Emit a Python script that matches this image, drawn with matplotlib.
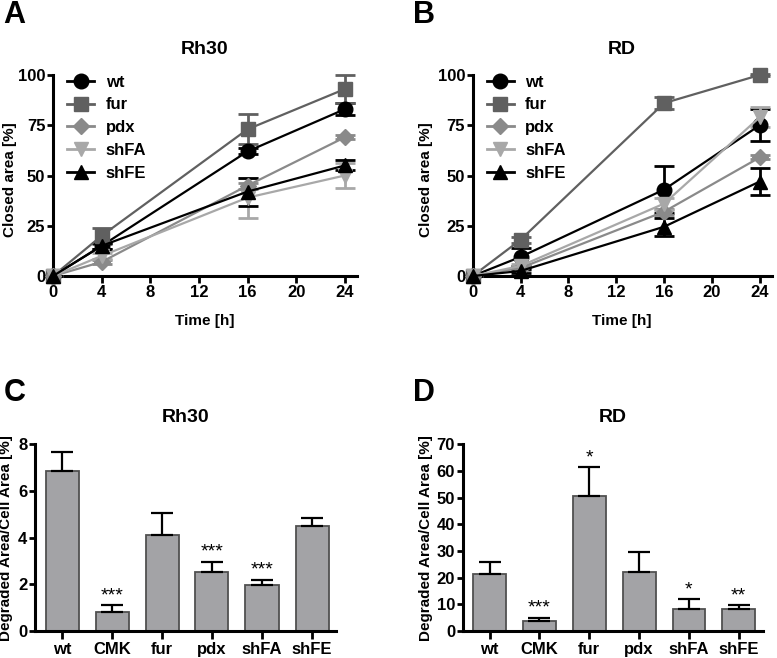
import matplotlib
matplotlib.use("Agg")
import matplotlib.pyplot as plt
from matplotlib.lines import Line2D
import numpy as np

plt.rcParams['font.family'] = ['Liberation Sans', 'DejaVu Sans']
plt.rcParams['font.weight'] = 'bold'

time_h = [0, 4, 16, 24]
series = ["wt", "fur", "pdx", "shFA", "shFE"]
markers = ["o", "s", "D", "v", "^"]
msizes = [10.5, 9.5, 8, 10, 10]
colors = ["#000000", "#606060", "#8a8a8a", "#a8a8a8", "#000000"]

# Panel A (Rh30) closed area [%]
rh30_wt = [0, 15, 62, 83]
rh30_wt_err = [0, 1.5, 1.5, 3]
rh30_fur = [0, 20, 73, 93]
rh30_fur_err = [0, 4, 7.5, 7]
rh30_pdx = [0, 7, 45, 69]
rh30_pdx_err = [0, 1, 1.5, 1]
rh30_shFA = [0, 10, 39, 50]
rh30_shFA_err = [0, 1.5, 10, 6]
rh30_shFE = [0, 15, 42, 55]
rh30_shFE_err = [0, 1.5, 7, 2.5]

# Panel B (RD) closed area [%]
rd_wt = [0, 9.5, 43, 75]
rd_wt_err = [0, 4.5, 11.5, 8]
rd_fur = [0, 18, 86, 100]
rd_fur_err = [0, 1.5, 3, 0.5]
rd_pdx = [0, 4, 32, 59]
rd_pdx_err = [0, 1, 1.5, 1]
rd_shFA = [0, 5, 36, 79]
rd_shFA_err = [0, 1, 3, 5]
rd_shFE = [0, 2.5, 24.5, 47]
rd_shFE_err = [0, 1, 4.5, 6.5]

# Panels C, D
bar_cats = ["wt", "CMK", "fur", "pdx", "shFA", "shFE"]
rh30_deg = [6.87, 0.83, 4.13, 2.54, 1.97, 4.51]
rh30_deg_err = [0.8, 0.28, 0.91, 0.43, 0.22, 0.33]
rh30_sig = ["", "***", "", "***", "***", ""]
rd_deg = [21.3, 3.8, 50.6, 22.0, 8.3, 8.1]
rd_deg_err = [4.5, 1.2, 10.9, 7.5, 3.6, 1.5]
rd_sig = ["", "***", "*", "", "*", "**"]

W, H = 777, 658
fig = plt.figure(figsize=(W / 100, H / 100), dpi=100)

def rect(l, r, t, b):
    return [l / W, 1 - b / H, (r - l) / W, (b - t) / H]

def style_axes(ax):
    for s in ["top", "right"]:
        ax.spines[s].set_visible(False)
    for s in ["left", "bottom"]:
        ax.spines[s].set_linewidth(2.2)
    ax.tick_params(width=2.0, labelsize=12, pad=1.5)
    ax.tick_params(axis='y', length=4)
    ax.tick_params(axis='x', length=5)
    for lab in ax.get_xticklabels() + ax.get_yticklabels():
        lab.set_fontweight('bold')

def line_panel(ax, data, title, ylab_x):
    handles = []
    for (vals, errs), name, m, ms, c in zip(data, series, markers, msizes, colors):
        ax.errorbar(time_h, vals, yerr=errs, color=c, marker=m, ms=ms, lw=1.6,
                    elinewidth=2.0, capsize=7, capthick=2.0,
                    clip_on=False, zorder=3)
        handles.append(Line2D([], [], color=c, marker=m, ms=ms, lw=2.0, label=name))
    ax.set_xlim(0, 25)
    ax.set_ylim(0, 100)
    ax.set_xticks([0, 4, 8, 12, 16, 20, 24])
    ax.set_yticks([0, 25, 50, 75, 100])
    ax.set_xlabel("Time [h]", fontsize=11, fontweight='bold', labelpad=10)
    ax.set_ylabel("Closed area [%]", fontsize=11, fontweight='bold')
    ax.yaxis.set_label_coords(ylab_x, 0.48)
    ax.set_title(title, fontsize=14, fontweight='bold', pad=15)
    style_axes(ax)
    ax.legend(handles=handles, loc="upper left", bbox_to_anchor=(0.025, 1.035), frameon=False,
              prop={'weight': 'bold', 'size': 12}, handlelength=1.6,
              labelspacing=0.47, handletextpad=0.7, borderaxespad=0)

def bar_panel(ax, vals, errs, sig, title, ylim, yticks, ylab_x):
    x = np.arange(len(bar_cats))
    ax.bar(x, vals, width=0.66, color="#a3a3a6", edgecolor="#505050", linewidth=1.3, zorder=2)
    ax.errorbar(x, vals, yerr=[np.zeros(len(vals)), errs], fmt="none", ecolor="black",
                elinewidth=1.6, capsize=8, capthick=1.6, zorder=3)
    for xi, v, e, s in zip(x, vals, errs, sig):
        if s:
            ax.text(xi, v + e + ylim[1] * 0.005, s, ha="center", va="bottom", fontsize=14,
                    fontweight='normal')
    ax.set_xlim(-0.54, 5.48)
    ax.set_ylim(*ylim)
    ax.set_yticks(yticks)
    ax.set_xticks(x)
    ax.set_xticklabels(bar_cats)
    ax.set_ylabel("Degraded Area/Cell Area [%]", fontsize=11, fontweight='bold')
    ax.yaxis.set_label_coords(ylab_x, 0.5)
    ax.set_title(title, fontsize=14, fontweight='bold', pad=16)
    style_axes(ax)
    ax.tick_params(axis='x', length=6, pad=2)

axA = fig.add_axes(rect(53, 357, 75, 276))
line_panel(axA, [(rh30_wt, rh30_wt_err), (rh30_fur, rh30_fur_err), (rh30_pdx, rh30_pdx_err),
                 (rh30_shFA, rh30_shFA_err), (rh30_shFE, rh30_shFE_err)], "Rh30", -0.118)
axB = fig.add_axes(rect(472.7, 771.7, 75, 276))
line_panel(axB, [(rd_wt, rd_wt_err), (rd_fur, rd_fur_err), (rd_pdx, rd_pdx_err),
                 (rd_shFA, rd_shFA_err), (rd_shFE, rd_shFE_err)], "RD", -0.133)

axC = fig.add_axes(rect(35, 336, 444.3, 631))
bar_panel(axC, rh30_deg, rh30_deg_err, rh30_sig, "Rh30", (0, 8), [0, 2, 4, 6, 8], -0.073)
axD = fig.add_axes(rect(462.7, 762.7, 444.3, 631))
bar_panel(axD, rd_deg, rd_deg_err, rd_sig, "RD", (0, 70), [0, 10, 20, 30, 40, 50, 60, 70], -0.099)

for lab, x, y in [("A", 3, 0), ("B", 413, 0), ("C", 4, 378), ("D", 413, 378)]:
    fig.text(x / W, 1 - y / H, lab, fontsize=22, fontweight='bold', ha="left", va="top")

fig.savefig("out.png", dpi=100)
